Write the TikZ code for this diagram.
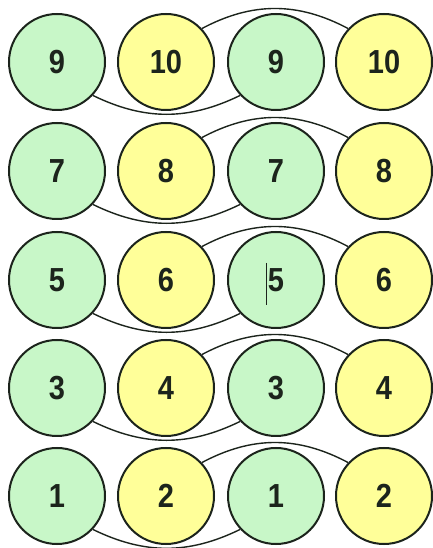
\documentclass[tikz,border=0pt]{standalone}
\usepackage{fontspec}
\setmainfont{Liberation Sans}
\definecolor{ballgreen}{HTML}{C8F7C8}
\definecolor{ballyellow}{HTML}{FFFF99}
\definecolor{inkdark}{HTML}{1C241C}
\newcommand{\tallnum}[1]{\scalebox{1}[1.15]{#1}}
\begin{document}
\begin{tikzpicture}[x=1pt,y=1pt,
  ball/.style={circle,draw=inkdark,line width=2pt,minimum size=96pt,inner sep=0pt,
    font=\fontsize{29}{29}\selectfont\bfseries,text=inkdark},
  gball/.style={ball,fill=ballgreen},
  yball/.style={ball,fill=ballyellow},
  link/.style={draw=inkdark,line width=1.4pt}]
\useasboundingbox[fill=white] (0,0) rectangle (433,548);
\foreach \r/\y/\a/\b in {1/486/9/10,2/377/7/8,3/268/5/6,4/160/3/4,5/52/1/2}{
  \node[gball] (c\r1) at (57,\y) {\tallnum{\a}};
  \node[yball] (c\r2) at (166,\y) {\tallnum{\b}};
  \node[gball] (c\r3) at (276,\y) {\tallnum{\a}};
  \node[yball] (c\r4) at (384,\y) {\tallnum{\b}};
}
\foreach \r in {1,...,5}{
  \path[link] (c\r2.43) to[out=28,in=152] (c\r4.137);
  \path[link] (c\r1.-43) to[out=-26,in=-154] (c\r3.-137);
}
\draw[inkdark,line width=1.1pt] ([shift={(-9.5,17)}]c33.center) -- ([shift={(-9.5,-25)}]c33.center);
\end{tikzpicture}
\end{document}
